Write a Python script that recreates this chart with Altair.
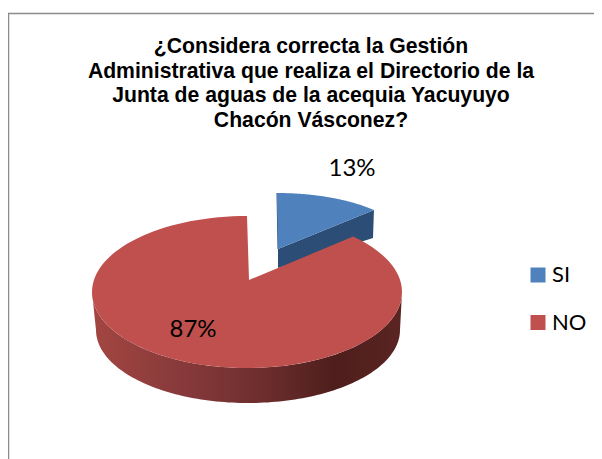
import math
import altair as alt
import pandas as pd

# ---- chart values ----
categories = ["SI", "NO"]
shares = [13, 87]
share_labels = ["13%", "87%"]
title_lines = [
    "¿Considera correcta la Gestión",
    "Administrativa que realiza el Directorio de la",
    "Junta de aguas de la acequia Yacuyuyo",
    "Chacón Vásconez?",
]
colors = ["#4f81bd", "#c0504d"]

W, H = 586, 451
x_s = alt.Scale(domain=[8, 8 + W], range=[0, W], nice=False, zero=False)
y_s = alt.Scale(domain=[8, 8 + H], range=[0, H], nice=False, zero=False)
X = lambda f="x": alt.X(f"{f}:Q", scale=x_s, axis=None)
Y = lambda f="y": alt.Y(f"{f}:Q", scale=y_s, axis=None)

STEPS = 120
sweep_si = 360 * shares[0] / sum(shares)


def ell(cx, cy, rx, ry, deg):
    a = math.radians(deg)
    return cx + rx * math.sin(a), cy - ry * math.cos(a)


def frame(points, **extra):
    return pd.DataFrame(
        [{"x": p[0], "y": p[1], "i": i, **extra} for i, p in enumerate(points)]
    )


# Red slice: top face and wall
red_start = sweep_si * 0.923
red_pts = [(249, 280)] + [
    ell(247, 292, 155, 76, red_start + (360 - red_start) * k / STEPS)
    for k in range(STEPS + 1)
]
wall_top = [ell(247, 292, 155, 76, 90 + 180 * k / STEPS) for k in range(STEPS + 1)]
wall_bot = [ell(248, 330, 152, 73, 270 - 180 * k / STEPS) for k in range(STEPS + 1)]

# Blue slice: top face and wall
blue_pts = [(278, 249)] + [
    ell(277, 247, 133, 54, sweep_si * k / STEPS) for k in range(STEPS + 1)
]
blue_wall = [(278, 249), ell(277, 247, 133, 54, sweep_si), (373, 238), (278, 268)]
blue_edge = [blue_pts[1], blue_pts[0]]

faces = pd.concat(
    [
        frame(blue_pts, series=categories[0]),
        frame(red_pts, series=categories[1]),
    ]
)

wall_fill = alt.LinearGradient(
    gradient="linear",
    x1=0, x2=1, y1=0, y2=0,
    stops=[
        alt.GradientStop(offset=0.0, color="#a34642"),
        alt.GradientStop(offset=0.3, color="#86393a"),
        alt.GradientStop(offset=0.55, color="#6d2e2d"),
        alt.GradientStop(offset=0.78, color="#4e1e1c"),
        alt.GradientStop(offset=1.0, color="#5a2422"),
    ],
)

red_wall_layer = (
    alt.Chart(frame(wall_top + wall_bot))
    .mark_line(fill=wall_fill, stroke="#5a2422", strokeWidth=0)
    .encode(x=X(), y=Y(), order="i:Q")
)
blue_wall_layer = (
    alt.Chart(frame(blue_wall))
    .mark_line(fill="#2c4d75", stroke="#2c4d75", strokeWidth=0)
    .encode(x=X(), y=Y(), order="i:Q")
)
blue_edge_layer = (
    alt.Chart(frame(blue_edge))
    .mark_line(stroke="#2c4d75", strokeWidth=1)
    .encode(x=X(), y=Y(), order="i:Q")
)
faces_layer = (
    alt.Chart(faces)
    .mark_line(strokeWidth=0)
    .encode(
        x=X(),
        y=Y(),
        order="i:Q",
        fill=alt.Fill(
            "series:N",
            scale=alt.Scale(domain=categories, range=colors),
            legend=alt.Legend(
                title=None,
                orient="none",
                legendX=519,
                legendY=256,
                symbolType="square",
                symbolSize=225,
                symbolStrokeWidth=0,
                labelFont="Lato",
                labelFontSize=22,
                labelColor="#000000",
                labelOffset=3,
                rowPadding=25.5,
                labelLimit=100,
            ),
        ),
    )
)

labels = pd.DataFrame({"t": share_labels, "x": [352, 193], "y": [169, 330]})
labels_layer = (
    alt.Chart(labels)
    .mark_text(font="Lato", fontSize=24, color="#000000", baseline="middle", align="center")
    .encode(x=X(), y=Y(), text="t:N")
)

title_df = pd.DataFrame(
    {"t": title_lines, "x": [311] * 4, "y": [53 + 24.5 * i for i in range(4)]}
)
title_layer = (
    alt.Chart(title_df)
    .mark_text(
        font="Liberation Sans", fontSize=21.2, fontWeight="bold",
        color="#000000", baseline="alphabetic", align="center",
    )
    .encode(x=X(), y=Y(), text="t:N")
)

border_left = (
    alt.Chart(pd.DataFrame({"x": [8.5], "y": [13], "y2": [8 + H]}))
    .mark_rule(color="#8c8c8c", strokeWidth=1.5)
    .encode(x=X(), y=Y(), y2="y2:Q")
)
border_top = (
    alt.Chart(pd.DataFrame({"x": [8], "x2": [8 + W], "y": [13.5]}))
    .mark_rule(color="#8c8c8c", strokeWidth=1.5)
    .encode(x=X(), x2="x2:Q", y=Y())
)

chart = (
    alt.layer(
        border_left, border_top,
        blue_wall_layer, blue_edge_layer,
        red_wall_layer, faces_layer,
        labels_layer, title_layer,
    )
    .properties(width=W, height=H, padding=0, autosize=alt.AutoSizeParams(type="none"))
    .configure_view(stroke=None)
)

chart.save("out.html", embed_options={"renderer": "svg", "actions": False})
